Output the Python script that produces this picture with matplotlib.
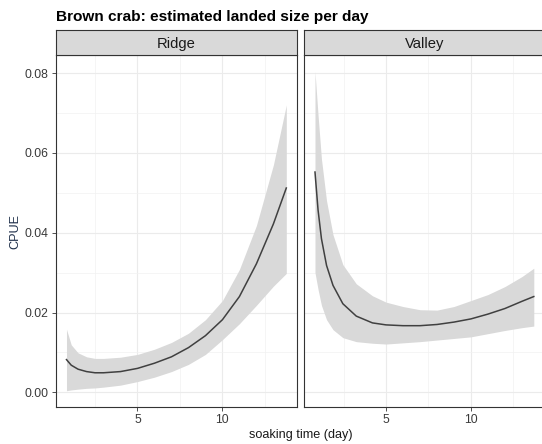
import matplotlib
matplotlib.use('Agg')
import matplotlib.pyplot as plt
from matplotlib.ticker import MultipleLocator

plt.rcParams['font.family'] = ['Liberation Sans', 'DejaVu Sans']

# fitted CPUE with confidence band, per ground
ridge_day = [0.82, 1.1, 1.5, 2.0, 2.5, 3.0, 4.0, 5.0, 6.0, 7.0, 8.0, 9.0, 10.0, 11.0, 12.0, 13.0, 13.76]
ridge_fit = [0.0082, 0.0068, 0.0058, 0.0052, 0.0049, 0.0049, 0.0052, 0.0060, 0.0073, 0.0089,
             0.0112, 0.0142, 0.0182, 0.0240, 0.0322, 0.0422, 0.0512]
ridge_lo = [0.0004, 0.0006, 0.0008, 0.0010, 0.0011, 0.0013, 0.0018, 0.0027, 0.0038, 0.0052,
            0.0070, 0.0095, 0.0132, 0.0172, 0.0218, 0.0266, 0.0298]
ridge_hi = [0.0158, 0.0119, 0.0099, 0.0089, 0.0085, 0.0085, 0.0088, 0.0095, 0.0108, 0.0125,
            0.0148, 0.0182, 0.0230, 0.0308, 0.0418, 0.0570, 0.0720]

valley_day = [0.82, 1.0, 1.2, 1.5, 1.88, 2.46, 3.25, 4.2, 5.0, 6.0, 7.0, 8.0, 9.0, 10.0, 11.0, 12.0, 13.0, 13.7]
valley_fit = [0.0552, 0.0457, 0.0385, 0.0318, 0.0268, 0.0222, 0.0191, 0.0174, 0.0169, 0.0167,
              0.0167, 0.0170, 0.0176, 0.0184, 0.0196, 0.0210, 0.0228, 0.0240]
valley_lo = [0.0300, 0.0258, 0.0218, 0.0182, 0.0157, 0.0137, 0.0127, 0.0123, 0.0121, 0.0124,
             0.0127, 0.0131, 0.0135, 0.0139, 0.0147, 0.0155, 0.0162, 0.0166]
valley_hi = [0.0804, 0.0695, 0.0585, 0.0480, 0.0395, 0.0320, 0.0272, 0.0242, 0.0226, 0.0215,
             0.0207, 0.0206, 0.0215, 0.0230, 0.0245, 0.0265, 0.0290, 0.0311]

panels = [('Ridge', ridge_day, ridge_fit, ridge_lo, ridge_hi),
          ('Valley', valley_day, valley_fit, valley_lo, valley_hi)]

W, H = 542, 444
fig = plt.figure(figsize=(W / 100, H / 100), dpi=100)


def box(x0, y0, x1, y1):
    return [x0 / W, 1 - y1 / H, (x1 - x0) / W, (y1 - y0) / H]


# shared scales with 5% expansion, like ggplot
all_x = ridge_day + valley_day
all_y = ridge_lo + ridge_hi + valley_lo + valley_hi
xpad = 0.05 * (max(all_x) - min(all_x))
ypad = 0.05 * (max(all_y) - min(all_y))
xlim = (min(all_x) - xpad, max(all_x) + xpad)
ylim = (min(all_y) - ypad, max(all_y) + ypad)

edge = '#333333'
lefts = [55.5, 304.0]
width = 241.8

for i, (name, day, fit, lo, hi) in enumerate(panels):
    x0 = lefts[i]
    ax = fig.add_axes(box(x0, 55.5, x0 + width, 406.7))
    ax.fill_between(day, lo, hi, color='#D9D9D9', lw=0, zorder=2)
    ax.plot(day, fit, color='#404040', lw=1.1, zorder=3)
    ax.set_xlim(xlim)
    ax.set_ylim(ylim)
    ax.xaxis.set_major_locator(MultipleLocator(5))
    ax.xaxis.set_minor_locator(MultipleLocator(2.5))
    ax.yaxis.set_major_locator(MultipleLocator(0.02))
    ax.yaxis.set_minor_locator(MultipleLocator(0.01))
    ax.grid(which='major', color='#EBEBEB', lw=0.8, zorder=0)
    ax.grid(which='minor', color='#F2F2F2', lw=0.5, zorder=0)
    ax.set_axisbelow(True)
    for s in ax.spines.values():
        s.set_color(edge)
        s.set_linewidth(0.8)
    ax.tick_params(which='minor', length=0)
    ax.tick_params(which='major', length=2.7, width=0.6, color=edge,
                   labelsize=8.8, labelcolor='#3A3A3A', pad=2.2)
    ax.yaxis.set_major_formatter(lambda v, p: f'{v:.2f}')
    if i > 0:
        ax.tick_params(axis='y', left=False, labelleft=False)

    strip = fig.add_axes(box(x0, 30.0, x0 + width, 55.5))
    strip.set_facecolor('#D9D9D9')
    strip.set_xticks([])
    strip.set_yticks([])
    for s in strip.spines.values():
        s.set_color(edge)
        s.set_linewidth(0.8)
    strip.text(0.5, 0.47, name, ha='center', va='center', fontsize=10.6, color='#1A1A1A',
               transform=strip.transAxes)

fig.text(55.7 / W, 1 - 20.7 / H, 'Brown crab: estimated landed size per day',
         fontsize=11.1, fontweight='bold', ha='left', va='baseline')
fig.text(300.6 / W, 1 - 437.5 / H, 'soaking time (day)', fontsize=9.1,
         color='#1A1A1A', ha='center', va='baseline')
fig.text(15.5 / W, 1 - 231 / H, 'CPUE', fontsize=9.1, rotation=90,
         color='#1F2F4A', ha='center', va='center')

fig.savefig('out.png', dpi=100)
